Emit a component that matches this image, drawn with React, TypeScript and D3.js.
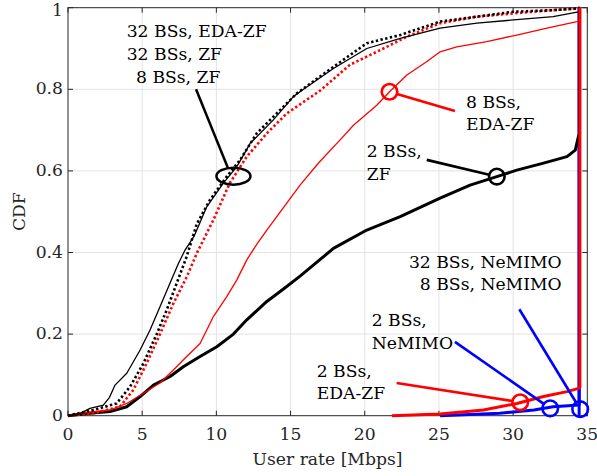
import React from "react";
import * as d3 from "d3";

// ---- data ----
const xTicks = [0, 5, 10, 15, 20, 25, 30, 35];
const yTicks = [0, 0.2, 0.4, 0.6, 0.8, 1];
const yTickLabels = ["0", "0.2", "0.4", "0.6", "0.8", "1"];

// 32 BSs, EDA-ZF (thin black)
const bs32EdaX = [0, 0.8, 1.48, 2.38, 2.8, 3.17, 3.96, 4.86, 5.53, 6.2, 6.88, 7.44, 7.89, 8.5, 9.35, 10.47, 11.37, 12.27, 13.84, 15.19, 15.87, 17.89, 20.14, 22.39, 25.08, 27.56, 30.03, 32.7, 34.4, 34.48];
const bs32EdaY = [0, 0.005, 0.018, 0.026, 0.045, 0.075, 0.104, 0.161, 0.21, 0.267, 0.325, 0.373, 0.406, 0.44, 0.512, 0.57, 0.61, 0.667, 0.725, 0.782, 0.8, 0.851, 0.9, 0.925, 0.95, 0.962, 0.97, 0.978, 0.99, 1];
// 32 BSs, ZF (black dotted)
const bs32ZfX = [0, 1.7, 3.28, 4.18, 5.08, 5.98, 6.65, 7.33, 8.0, 8.68, 9.57, 10.7, 11.6, 12.72, 14.07, 15.42, 17.89, 20.14, 22.39, 25.08, 27.56, 30.0, 32.7, 34.3, 34.48];
const bs32ZfY = [0, 0.014, 0.03, 0.071, 0.128, 0.2, 0.259, 0.325, 0.39, 0.47, 0.529, 0.586, 0.627, 0.692, 0.741, 0.79, 0.855, 0.913, 0.933, 0.966, 0.978, 0.99, 0.994, 0.998, 1];
// 8 BSs, ZF (red dotted)
const bs8ZfX = [0, 1.7, 3.5, 4.4, 5.3, 6.2, 7.1, 8.0, 8.68, 9.8, 10.9, 12.05, 13.4, 14.75, 15.64, 17.0, 19.0, 21.26, 22.84, 25.08, 27.56, 30.0, 32.7, 34.3, 34.48];
const bs8ZfY = [0, 0.006, 0.022, 0.063, 0.128, 0.2, 0.275, 0.34, 0.398, 0.48, 0.57, 0.635, 0.692, 0.741, 0.763, 0.797, 0.86, 0.9, 0.929, 0.962, 0.978, 0.986, 0.994, 0.998, 1];
// 8 BSs, EDA-ZF (thin red)
const bs8EdaX = [0, 0.8, 2.83, 3.96, 5.08, 6.2, 7.1, 8.0, 8.9, 9.8, 10.7, 11.38, 12.05, 12.72, 13.4, 14.52, 15.64, 16.9, 18.34, 19.24, 20.81, 21.67, 22.84, 24.19, 25.08, 26.2, 28.23, 30.25, 32.28, 34.3, 34.48];
const bs8EdaY = [0, 0.006, 0.014, 0.03, 0.055, 0.08, 0.112, 0.145, 0.177, 0.243, 0.292, 0.333, 0.382, 0.42, 0.455, 0.51, 0.565, 0.62, 0.676, 0.712, 0.761, 0.794, 0.835, 0.868, 0.892, 0.904, 0.917, 0.933, 0.95, 0.966, 0.97];
// 2 BSs, ZF (thick black)
const bs2ZfX = [0, 1.48, 2.83, 3.96, 4.86, 5.76, 6.88, 7.77, 8.9, 10.03, 11.15, 12.05, 12.95, 13.4, 14.5, 15.64, 17.89, 20.14, 22.39, 25.08, 27.1, 28.9, 30.25, 32.05, 33.63, 34.19, 34.4, 34.48, 34.48];
const bs2ZfY = [0, 0.006, 0.01, 0.022, 0.047, 0.075, 0.096, 0.12, 0.145, 0.169, 0.2, 0.235, 0.265, 0.28, 0.31, 0.342, 0.41, 0.455, 0.488, 0.533, 0.565, 0.586, 0.602, 0.619, 0.635, 0.651, 0.684, 0.69, 1];
// NeMIMO, 32 & 8 BSs (blue step)
const bsNeX = [34.45, 34.45];
const bsNeY = [0, 1];
// 2 BSs, NeMIMO (thick blue)
const bs2NeX = [25.08, 29.1, 31.4, 32.7, 34.45, 34.45];
const bs2NeY = [0, 0.006, 0.014, 0.022, 0.026, 1];
// 2 BSs, EDA-ZF (thick red)
const bs2EdaX = [21.83, 25.08, 28.0, 30.25, 32.05, 33.63, 34.41, 34.5, 34.5];
const bs2EdaY = [0, 0.004, 0.014, 0.03, 0.047, 0.059, 0.067, 0.07, 1];

const W = 597, H = 476;
const FONT = "DejaVu Serif";

export default function App() {
  const x = d3.scaleLinear().domain([0, 35]).range([68, 587.3]);
  const y = d3.scaleLinear().domain([0, 1]).range([415.7, 7.7]);
  const line = (xs: number[], ys: number[]) =>
    d3.line<number>().x((_, i) => x(xs[i])).y((_, i) => y(ys[i]))(xs.map((v) => v)) || "";

  const series = [
    { xs: bsNeX, ys: bsNeY, color: "#0000ff", w: 3, dash: undefined },
    { xs: bs2NeX, ys: bs2NeY, color: "#0000ff", w: 3, dash: undefined },
    { xs: bs2ZfX, ys: bs2ZfY, color: "#000000", w: 3, dash: undefined },
    { xs: bs8EdaX, ys: bs8EdaY, color: "#ff0000", w: 1.3, dash: undefined },
    { xs: bs8ZfX, ys: bs8ZfY, color: "#ff0000", w: 2.6, dash: "2.4 2.4" },
    { xs: bs32ZfX, ys: bs32ZfY, color: "#000000", w: 2.6, dash: "2.4 2.4" },
    { xs: bs32EdaX, ys: bs32EdaY, color: "#000000", w: 1.3, dash: undefined },
    { xs: bs2EdaX, ys: bs2EdaY, color: "#ff0000", w: 3, dash: undefined },
  ];

  // circle annotations: [cx, cy] data, [ex, ey] data end of pointer
  const circles = [
    { c: [21.67, 0.794], e: [26.08, 0.747], color: "#ff0000" },
    { c: [28.9, 0.586], e: [24.18, 0.627], color: "#000000" },
    { c: [30.48, 0.033], e: [22.15, 0.08], color: "#ff0000" },
    { c: [32.5, 0.018], e: [26.08, 0.181], color: "#0000ff" },
    { c: [34.52, 0.016], e: [30.42, 0.261], color: "#0000ff" },
  ];
  const R = 7.8;

  const tc = "#262626";
  const x0 = x(0), x1 = x(35), y0 = y(0), y1 = y(1);

  return (
    <svg width={W} height={H} style={{ position: "absolute", left: 0, top: 0, background: "#fff" }}
      fontFamily={FONT} fontSize={17.2}>
      <rect x={0} y={0} width={W} height={H} fill="#fff" />
      {/* grid */}
      {xTicks.slice(1, -1).map((t) => (
        <line key={"gx" + t} x1={x(t)} x2={x(t)} y1={y0} y2={y1} stroke="#e3e3e3" strokeWidth={1} />
      ))}
      {yTicks.slice(1, -1).map((t) => (
        <line key={"gy" + t} x1={x0} x2={x1} y1={y(t)} y2={y(t)} stroke="#e3e3e3" strokeWidth={1} />
      ))}
      {/* axes box */}
      <rect x={x0} y={y1} width={x1 - x0} height={y0 - y1} fill="none" stroke={tc} strokeWidth={1} />
      {xTicks.map((t) => (
        <g key={"tx" + t}>
          <line x1={x(t)} x2={x(t)} y1={y0} y2={y0 - 5} stroke={tc} />
          <line x1={x(t)} x2={x(t)} y1={y1} y2={y1 + 5} stroke={tc} />
          <text x={x(t)} y={440} textAnchor="middle" fill={tc}>{t}</text>
        </g>
      ))}
      {yTicks.map((t, i) => (
        <g key={"ty" + t}>
          <line x1={x0} x2={x0 + 5} y1={y(t)} y2={y(t)} stroke={tc} />
          <line x1={x1} x2={x1 - 5} y1={y(t)} y2={y(t)} stroke={tc} />
          <text x={63} y={Math.max(y(t) + 5, 16)} textAnchor="end" fill={tc}>{yTickLabels[i]}</text>
        </g>
      ))}
      <text x={327.5} y={465} textAnchor="middle" fill={tc}>User rate [Mbps]</text>
      <text transform={`translate(25,${(y0 + y1) / 2}) rotate(-90)`} textAnchor="middle" fill={tc}>CDF</text>

      {/* curves */}
      {series.map((s, i) => (
        <path key={"s" + i} d={line(s.xs, s.ys)} fill="none" stroke={s.color} strokeWidth={s.w}
          strokeDasharray={s.dash} strokeLinejoin="round" />
      ))}

      {/* ellipse annotation */}
      <ellipse cx={x(11.15)} cy={y(0.587)} rx={17} ry={8.5} fill="none" stroke="#000" strokeWidth={2.5} />
      <line x1={x(8.63)} y1={y(0.8)} x2={x(10.78)} y2={y(0.607)} stroke="#000" strokeWidth={2.5} />
      <text x={126.7} y={36.7}>32 BSs, EDA-ZF</text>
      <text x={126.7} y={60}>32 BSs, ZF</text>
      <text x={136} y={83.3}>8 BSs, ZF</text>

      {circles.map((a, i) => {
        const cx = x(a.c[0]), cy = y(a.c[1]);
        const ex = x(a.e[0]), ey = y(a.e[1]);
        const d = Math.hypot(ex - cx, ey - cy);
        const sx = cx + ((ex - cx) / d) * R, sy = cy + ((ey - cy) / d) * R;
        return (
          <g key={"c" + i}>
            <line x1={sx} y1={sy} x2={ex} y2={ey} stroke={a.color} strokeWidth={2.6} />
            <circle cx={cx} cy={cy} r={R} fill="none" stroke={a.color} strokeWidth={2.6} />
          </g>
        );
      })}

      <text x={466} y={108.3}>8 BSs,</text>
      <text x={466} y={130}>EDA-ZF</text>
      <text x={366.7} y={156.7}>2 BSs,</text>
      <text x={366.7} y={180}>ZF</text>
      <text x={561.7} y={268.3} textAnchor="end">32 BSs, NeMIMO</text>
      <text x={561.7} y={290} textAnchor="end">8 BSs, NeMIMO</text>
      <text x={371.7} y={326}>2 BSs,</text>
      <text x={371.7} y={349.3}>NeMIMO</text>
      <text x={316.7} y={377.3}>2 BSs,</text>
      <text x={316.7} y={399.3}>EDA-ZF</text>
    </svg>
  );
}
